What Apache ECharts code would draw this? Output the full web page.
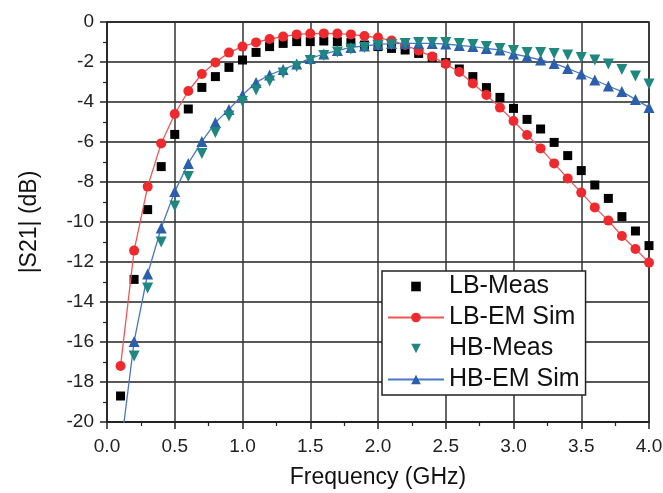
<!DOCTYPE html>
<html>
<head>
<meta charset="utf-8">
<script src="https://cdn.jsdelivr.net/npm/echarts@6/dist/echarts.min.js"></script>
<style>html,body{margin:0;padding:0;background:#fff;}#c{width:663px;height:493px;}</style>
</head>
<body>
<div id="c"></div>
<script>
var freq = [0.1,0.2,0.3,0.4,0.5,0.6,0.7,0.8,0.9,1.0,1.1,1.2,1.3,1.4,1.5,1.6,1.7,1.8,1.9,2.0,2.1,2.2,2.3,2.4,2.5,2.6,2.7,2.8,2.9,3.0,3.1,3.2,3.3,3.4,3.5,3.6,3.7,3.8,3.9,4.0];
var lbMeas = [-18.7,-12.87,-9.38,-7.23,-5.62,-4.35,-3.27,-2.73,-2.27,-1.9,-1.52,-1.23,-1.07,-0.98,-0.98,-0.95,-0.98,-1.03,-1.15,-1.23,-1.32,-1.4,-1.57,-1.78,-2.03,-2.35,-2.73,-3.28,-3.77,-4.32,-4.87,-5.35,-6.02,-6.68,-7.43,-8.15,-8.82,-9.73,-10.45,-11.18];
var lbSim = [-17.2,-11.43,-8.23,-6.07,-4.6,-3.45,-2.6,-2.02,-1.53,-1.23,-1.02,-0.85,-0.73,-0.62,-0.58,-0.57,-0.58,-0.62,-0.7,-0.78,-0.93,-1.15,-1.43,-1.73,-2.1,-2.5,-3.07,-3.65,-4.28,-4.95,-5.65,-6.32,-7.07,-7.82,-8.53,-9.27,-9.93,-10.7,-11.35,-12.03];
var hbMeas = [null,-16.7,-13.3,-11.0,-9.2,-7.73,-6.57,-5.53,-4.7,-3.98,-3.4,-2.95,-2.55,-2.23,-1.93,-1.68,-1.5,-1.35,-1.27,-1.18,-1.12,-1.07,-1.03,-1.02,-1.03,-1.07,-1.12,-1.23,-1.32,-1.43,-1.53,-1.53,-1.57,-1.65,-1.78,-1.9,-2.1,-2.37,-2.7,-3.1];
var hbSim = [-21.4,-15.98,-12.6,-10.3,-8.48,-7.07,-5.98,-5.03,-4.37,-3.65,-3.02,-2.65,-2.37,-2.1,-1.82,-1.6,-1.43,-1.27,-1.2,-1.12,-1.08,-1.07,-1.07,-1.07,-1.1,-1.17,-1.23,-1.32,-1.4,-1.6,-1.73,-1.9,-2.07,-2.32,-2.6,-2.9,-3.2,-3.48,-3.87,-4.27];
var seriesNames = ['LB-Meas','LB-EM Sim','HB-Meas','HB-EM Sim'];
var xName = 'Frequency (GHz)';
var yName = '|S21| (dB)';

function pairs(vals){ return freq.map(function(f,i){ return [f, vals[i]]; }); }

var FONT = '"Liberation Sans", Arial, sans-serif';
var chart = echarts.init(document.getElementById('c'), null, {renderer:'canvas'});
chart.setOption({
  animation: false,
  backgroundColor: '#fff',
  grid: {left:107, right:14, top:22, bottom:71, containLabel:false, outerBoundsMode:'none',
         show:true, borderColor:'#222', borderWidth:1.5, backgroundColor:'transparent'},
  xAxis: {
    type:'value', min:0, max:4, interval:0.5,
    name: xName, nameLocation:'middle', nameGap:44,
    nameTextStyle:{fontFamily:FONT, fontSize:23, color:'#111'},
    axisLine:{onZero:false, lineStyle:{color:'#222', width:1.5}},
    axisTick:{show:true, inside:false, length:7, lineStyle:{color:'#222', width:1.5}},
    minorTick:{show:true, splitNumber:2, length:4, lineStyle:{color:'#222', width:1.2}},
    axisLabel:{margin:15, fontFamily:FONT, fontSize:19, color:'#222', hideOverlap:false, formatter:function(v){return v.toFixed(1);}},
    splitLine:{show:true, lineStyle:{color:'#333', width:1.5}}
  },
  yAxis: {
    type:'value', min:-20, max:0, interval:2,
    name: yName, nameLocation:'middle', nameGap:66, nameRotate:90,
    nameTextStyle:{fontFamily:FONT, fontSize:23, color:'#111'},
    axisLine:{show:true, onZero:false, lineStyle:{color:'#222', width:1.5}},
    axisTick:{show:true, inside:false, length:7, lineStyle:{color:'#222', width:1.5}},
    minorTick:{show:true, splitNumber:2, length:4, lineStyle:{color:'#222', width:1.2}},
    axisLabel:{margin:13, fontFamily:FONT, fontSize:19, color:'#222'},
    splitLine:{show:true, lineStyle:{color:'#222', width:1.5}}
  },
  legend: {
    orient:'vertical', left:382, top:271,
    padding:[3,6,3,5], itemGap:6, itemWidth:56, itemHeight:12,
    backgroundColor:'#fff', borderColor:'#222', borderWidth:1.5, borderRadius:0,
    textStyle:{fontFamily:FONT, fontSize:25, color:'#111'},
    data: seriesNames
  },
  series: [
    {name:seriesNames[0], type:'line', data:pairs(lbMeas), symbol:'rect', symbolSize:9,
     itemStyle:{color:'#000'}, lineStyle:{width:0, opacity:0}, z:2},
    {name:seriesNames[1], type:'line', data:pairs(lbSim), symbol:'circle', symbolSize:10,
     itemStyle:{color:'#ee2a2e'}, lineStyle:{color:'#f05656', width:1.3}, z:3},
    {name:seriesNames[3], type:'line', data:pairs(hbSim), symbol:'triangle', symbolSize:11,
     itemStyle:{color:'#2c5eae'}, lineStyle:{color:'#4a78c4', width:1.3}, z:4},
    {name:seriesNames[2], type:'line', data:pairs(hbMeas), symbol:'triangle', symbolRotate:180, symbolSize:11,
     itemStyle:{color:'#1e8780'}, lineStyle:{width:0, opacity:0}, connectNulls:false, z:5}
  ]
});
</script>
</body>
</html>
